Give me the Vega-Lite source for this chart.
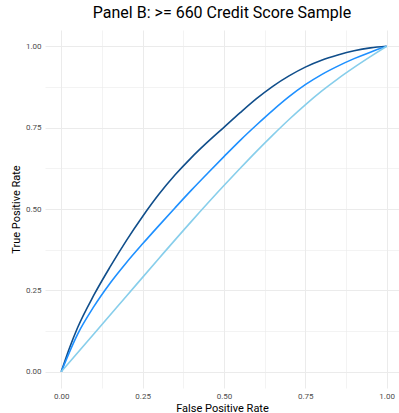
{
  "$schema": "https://vega.github.io/schema/vega-lite/v6.json",
  "autosize": {"type": "none"},
  "padding": {"left": 45, "top": 30, "right": 0, "bottom": 25},
  "width": 354,
  "height": 358,
  "background": "white",
  "title": {"text": "Panel B: >= 660 Credit Score Sample", "font": "Roboto", "fontSize": 16, "fontWeight": "normal", "color": "#000000", "anchor": "middle", "offset": 9},
  "config": {
    "view": {"stroke": null},
    "axis": {"domain": false, "ticks": false, "gridColor": "#ebebeb", "labelColor": "#4d4d4d", "labelFont": "Roboto", "labelFontSize": 8, "titleFont": "Roboto", "titleFontSize": 11, "titleFontWeight": "normal", "titleColor": "#000000"}
  },
  "data": {"values": [
    {"model": "A", "fpr": 0, "tpr": 0},
    {"model": "A", "fpr": 0.025, "tpr": 0.072},
    {"model": "A", "fpr": 0.05, "tpr": 0.135},
    {"model": "A", "fpr": 0.1, "tpr": 0.235},
    {"model": "A", "fpr": 0.15, "tpr": 0.322},
    {"model": "A", "fpr": 0.2, "tpr": 0.403},
    {"model": "A", "fpr": 0.25, "tpr": 0.477},
    {"model": "A", "fpr": 0.3, "tpr": 0.545},
    {"model": "A", "fpr": 0.35, "tpr": 0.605},
    {"model": "A", "fpr": 0.4, "tpr": 0.658},
    {"model": "A", "fpr": 0.45, "tpr": 0.706},
    {"model": "A", "fpr": 0.5, "tpr": 0.751},
    {"model": "A", "fpr": 0.55, "tpr": 0.796},
    {"model": "A", "fpr": 0.6, "tpr": 0.839},
    {"model": "A", "fpr": 0.65, "tpr": 0.877},
    {"model": "A", "fpr": 0.7, "tpr": 0.909},
    {"model": "A", "fpr": 0.75, "tpr": 0.936},
    {"model": "A", "fpr": 0.8, "tpr": 0.957},
    {"model": "A", "fpr": 0.85, "tpr": 0.973},
    {"model": "A", "fpr": 0.9, "tpr": 0.986},
    {"model": "A", "fpr": 0.95, "tpr": 0.995},
    {"model": "A", "fpr": 1, "tpr": 1},
    {"model": "B", "fpr": 0, "tpr": 0},
    {"model": "B", "fpr": 0.05, "tpr": 0.115},
    {"model": "B", "fpr": 0.1, "tpr": 0.2},
    {"model": "B", "fpr": 0.15, "tpr": 0.272},
    {"model": "B", "fpr": 0.2, "tpr": 0.335},
    {"model": "B", "fpr": 0.25, "tpr": 0.393},
    {"model": "B", "fpr": 0.3, "tpr": 0.449},
    {"model": "B", "fpr": 0.35, "tpr": 0.504},
    {"model": "B", "fpr": 0.4, "tpr": 0.558},
    {"model": "B", "fpr": 0.45, "tpr": 0.61},
    {"model": "B", "fpr": 0.5, "tpr": 0.661},
    {"model": "B", "fpr": 0.55, "tpr": 0.711},
    {"model": "B", "fpr": 0.6, "tpr": 0.758},
    {"model": "B", "fpr": 0.65, "tpr": 0.803},
    {"model": "B", "fpr": 0.7, "tpr": 0.845},
    {"model": "B", "fpr": 0.75, "tpr": 0.882},
    {"model": "B", "fpr": 0.8, "tpr": 0.913},
    {"model": "B", "fpr": 0.85, "tpr": 0.939},
    {"model": "B", "fpr": 0.9, "tpr": 0.962},
    {"model": "B", "fpr": 0.95, "tpr": 0.982},
    {"model": "B", "fpr": 1, "tpr": 1},
    {"model": "C", "fpr": 0, "tpr": 0},
    {"model": "C", "fpr": 0.1, "tpr": 0.116},
    {"model": "C", "fpr": 0.2, "tpr": 0.232},
    {"model": "C", "fpr": 0.3, "tpr": 0.348},
    {"model": "C", "fpr": 0.4, "tpr": 0.462},
    {"model": "C", "fpr": 0.5, "tpr": 0.572},
    {"model": "C", "fpr": 0.55, "tpr": 0.625},
    {"model": "C", "fpr": 0.6, "tpr": 0.677},
    {"model": "C", "fpr": 0.65, "tpr": 0.727},
    {"model": "C", "fpr": 0.7, "tpr": 0.775},
    {"model": "C", "fpr": 0.75, "tpr": 0.82},
    {"model": "C", "fpr": 0.8, "tpr": 0.862},
    {"model": "C", "fpr": 0.85, "tpr": 0.9},
    {"model": "C", "fpr": 0.9, "tpr": 0.935},
    {"model": "C", "fpr": 0.95, "tpr": 0.968},
    {"model": "C", "fpr": 1, "tpr": 1}
  ]},
  "mark": {"type": "line", "interpolate": "monotone"},
  "encoding": {
    "x": {"field": "fpr", "type": "quantitative", "title": "False Positive Rate",
      "scale": {"domain": [-0.05, 1.038], "nice": false, "zero": false},
      "axis": {"values": [0, 0.125, 0.25, 0.375, 0.5, 0.625, 0.75, 0.875, 1], "labelExpr": "datum.value * 8 % 2 == 0 ? format(datum.value, '.2f') : ''", "gridWidth": {"condition": {"test": "datum.value * 8 % 2 == 0", "value": 1}, "value": 0.6}, "labelPadding": 4, "titlePadding": 2}},
    "y": {"field": "tpr", "type": "quantitative", "title": "True Positive Rate",
      "scale": {"domain": [-0.05, 1.05], "nice": false, "zero": false},
      "axis": {"values": [0, 0.125, 0.25, 0.375, 0.5, 0.625, 0.75, 0.875, 1], "labelExpr": "datum.value * 8 % 2 == 0 ? format(datum.value, '.2f') : ''", "gridWidth": {"condition": {"test": "datum.value * 8 % 2 == 0", "value": 1}, "value": 0.6}, "labelPadding": 4, "titlePadding": 4}},
    "color": {"field": "model", "type": "nominal", "legend": null,
      "scale": {"domain": ["A", "B", "C"], "range": ["#104E8B", "#1E90FF", "#87CEEB"]}},
    "strokeWidth": {"field": "model", "type": "nominal", "legend": null,
      "scale": {"domain": ["A", "B", "C"], "range": [1.6, 1.6, 1.0]}},
    "order": {"field": "fpr", "type": "quantitative"}
  }
}
